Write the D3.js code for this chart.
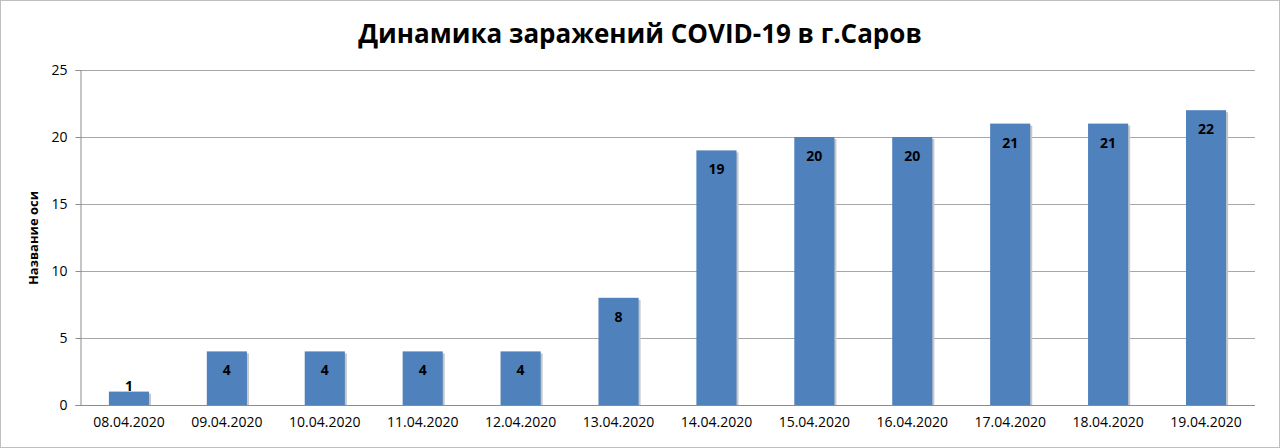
<!DOCTYPE html>
<html><head><meta charset="utf-8">
<script src="https://cdn.jsdelivr.net/npm/d3@7"></script>
<style>body{margin:0;background:#fff}svg{display:block}text{font-family:"Open Sans","Liberation Sans",sans-serif}</style>
</head><body><svg width="1280" height="448"></svg>
<script>
"use strict"
const dates = ["08.04.2020","09.04.2020","10.04.2020","11.04.2020","12.04.2020","13.04.2020","14.04.2020","15.04.2020","16.04.2020","17.04.2020","18.04.2020","19.04.2020"]
const cases = [1,4,4,4,4,8,19,20,20,21,21,22]
const yTicks = [0,5,10,15,20,25]

const svg = d3.select("svg")
svg.append("rect").attr("x",0.5).attr("y",0.5).attr("width",1279).attr("height",447)
    .attr("fill","#fff").attr("stroke","#bfbfbf")

const mLeft = 80, mRight = 1255, mTop = 70, mBottom = 405
const x = d3.scaleBand().domain(dates).range([mLeft, mRight]).paddingInner(0.59).paddingOuter(0.295)
const y = d3.scaleLinear().domain([0,25]).range([mBottom, mTop])

// grid
svg.append("g").selectAll("line").data(yTicks.slice(1)).join("line")
    .attr("x1", mLeft).attr("x2", mRight).attr("y1", d => y(d)+0.5).attr("y2", d => y(d)+0.5)
    .attr("stroke","#a6a6a6")

// y axis
const ya = svg.append("g").attr("transform",`translate(${mLeft+0.5},0)`)
    .call(d3.axisLeft(y).tickValues(yTicks).tickSize(5).tickPadding(8))
ya.select(".domain").attr("stroke","#8c8c8c")
ya.selectAll(".tick line").attr("stroke","#8c8c8c")
ya.selectAll("text").attr("font-size",14).attr("fill","#000")

// x axis
const xa = svg.append("g").attr("transform",`translate(0,${mBottom+0.5})`)
    .call(d3.axisBottom(x).tickSize(0).tickPadding(12))
xa.select(".domain").attr("stroke","#8c8c8c").attr("d",`M${mLeft},0H${mRight}`)
xa.selectAll("text").attr("font-size",14).attr("fill","#000")

// bars with soft shadow
const g = svg.append("g")
g.selectAll("rect.sh").data(cases).join("rect").attr("class","sh")
    .attr("x",(d,i)=>x(dates[i])+2).attr("y",d=>y(d)+2)
    .attr("width",x.bandwidth()).attr("height",d=>mBottom-y(d)-2).attr("fill","#c8c8c8")
g.selectAll("rect.bar").data(cases).join("rect").attr("class","bar")
    .attr("x",(d,i)=>x(dates[i])).attr("y",d=>y(d))
    .attr("width",x.bandwidth()).attr("height",d=>mBottom-y(d)).attr("fill","#4f81bd")

g.selectAll("text").data(cases).join("text")
    .attr("x",(d,i)=>x(dates[i])+x.bandwidth()/2).attr("y",d=>d < 2 ? y(d)-1 : y(d)+24)
    .attr("text-anchor","middle").attr("font-size",14).attr("font-weight","bold").attr("fill","#000")
    .text(d=>d)

svg.append("text").attr("x",640).attr("y",43).attr("text-anchor","middle")
    .attr("font-size",26).attr("font-weight","bold").text("Динамика заражений COVID-19 в г.Саров")
svg.append("text").attr("transform","translate(38,238) rotate(-90)").attr("text-anchor","middle")
    .attr("font-size",13).attr("font-weight","bold").text("Название оси")
</script></body></html>
